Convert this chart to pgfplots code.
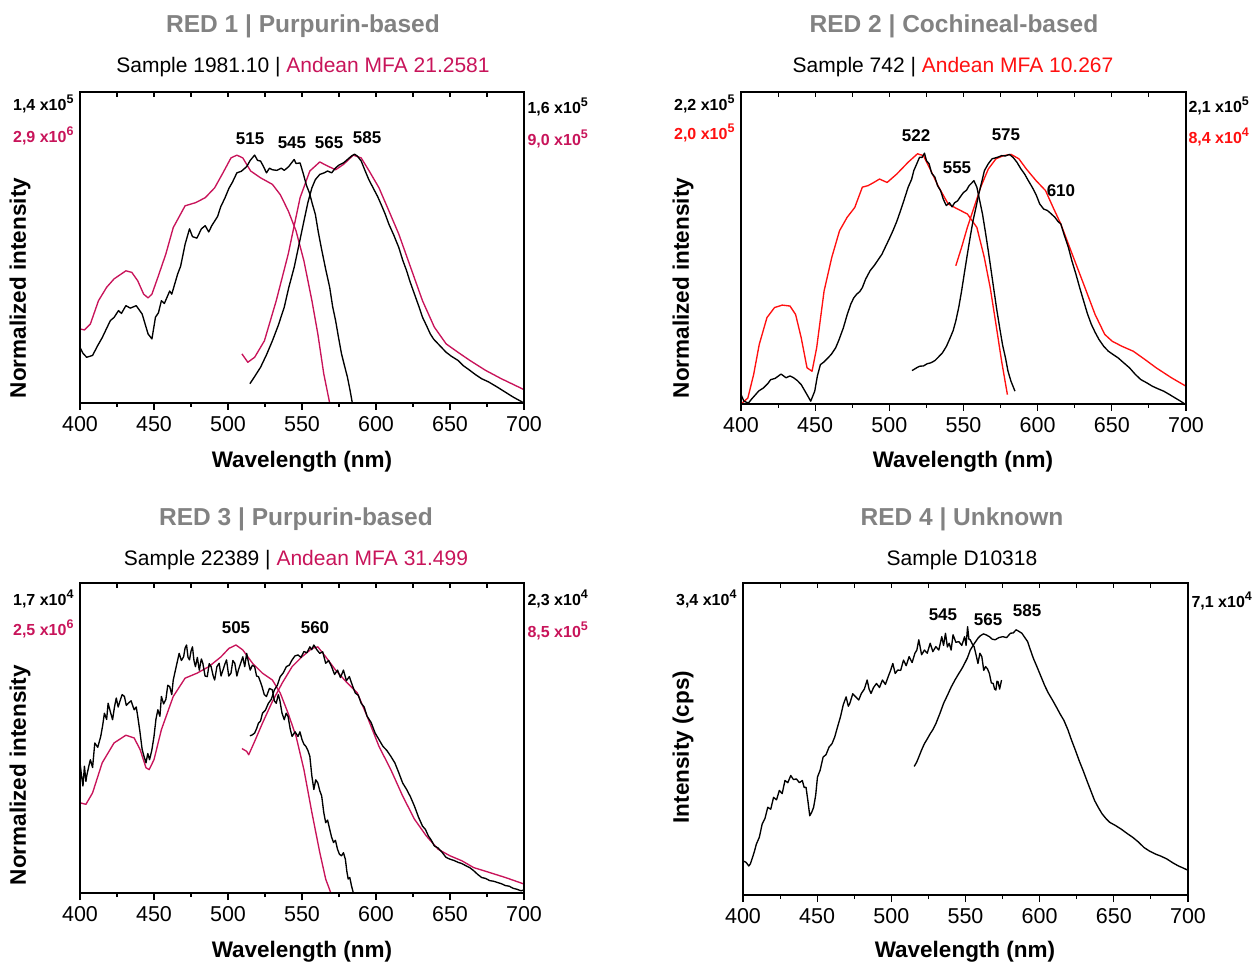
\documentclass[border=0pt]{standalone}
\usepackage{pgfplots}
\pgfplotsset{compat=1.18}
\usepackage{fontspec}
\setmainfont{Liberation Sans}
\definecolor{mag}{HTML}{C8145A}
\definecolor{tgray}{HTML}{828282}
\definecolor{pred}{HTML}{FF1010}
\pgfplotsset{
 panel/.style={scale only axis, xmin=400, xmax=700, ymin=0, ymax=100, ytick=\empty,
   xtick={400,450,...,700}, minor x tick num=1, xtick pos=left, tick align=outside,
   major tick length=7pt, minor tick length=4pt, axis line style={line width=1.2pt},
   tick style={line width=1.1pt, black},
   xticklabel style={font=\fontsize{21.5}{22}\selectfont, yshift=-2.5pt},
   /pgf/number format/assume math mode=true, /pgf/number format/1000 sep={},
   clip mode=individual},
 topt/.style={scale only axis, xmin=400, xmax=700, ymin=0, ymax=100, ytick=\empty,
   xtick={400,450,...,700}, minor x tick num=1, xtick pos=right, tick align=inside,
   major tick length=5pt, minor tick length=5pt, xticklabels={}, axis line style={line width=1.2pt},
   tick style={line width=1.1pt, black}},
}
\tikzset{
 blk/.style={black, line width=1.35pt, line join=round},
 mg/.style={mag, line width=1.35pt, line join=round},
 rd/.style={pred, line width=1.35pt, line join=round},
 pk/.style={font=\fontsize{17}{17}\selectfont\bfseries},
}
\newcommand{\ttl}{\fontsize{24.5}{25}\selectfont\bfseries\color{tgray}}
\newcommand{\sub}{\fontsize{21}{22}\selectfont}
\newcommand{\cl}{\fontsize{16}{16}\selectfont\bfseries}
\newcommand{\axl}{\fontsize{22.5}{23}\selectfont\bfseries}
\newcommand{\ex}[1]{\raisebox{6.5pt}{\fontsize{12.5}{13}\selectfont #1}}
\begin{document}
\begin{tikzpicture}[x=1pt,y=1pt]
\useasboundingbox (0,0) rectangle (1258,962);
% ---------------- Panel 1
\begin{axis}[panel, width=444pt, height=311pt, at={(80pt,559pt)}, anchor=south west]
\addplot[mg] coordinates {(400,23.8)(403,23.5)(407,25.4)(412.5,32.9)(418,37.2)(423,39.9)(431,42.5)(435,42)(439,39.3)(443,35)(446,33.8)(448.6,35)(452.6,40.4)(458,47.9)(463,56.4)(471,63.4)(478,64.4)(484.6,66)(491,69.2)(496.6,74)(502,78.8)(506,79.7)(510,78.8)(515.3,74.6)(522,72.4)(530,70.3)(535.3,67)(540.7,61.8)(546,55.3)(551.3,45.7)(556.7,32.9)(560.7,22.2)(564.7,9.4)(568.7,0)};
\addplot[mg] coordinates {(509.4,15.8)(513.4,13.1)(518,14.7)(524.6,20)(532.6,32.9)(540.7,47.9)(548.7,66)(555.3,74.6)(562,77.5)(567.3,76.2)(572.7,75)(578,76.7)(584.7,79.7)(590,78.8)(595.4,74.6)(602,69.2)(608.7,61.8)(615.4,54.3)(623.4,43.6)(631.4,32.9)(639.4,24.4)(647.4,19)(655.4,16.3)(663.4,13.7)(674,10.5)(684.7,7.8)(700,4.3)};
\addplot[blk] coordinates {(400,17.9)(402,16)(404.5,14.7)(408.5,15.3)(412,18.5)(415,21)(418,24)(420.5,26.5)(423,27.5)(426,29.7)(428,28.8)(431,31.3)(434,30.5)(438,31.3)(442,28.6)(446,22.2)(448.6,20.6)(451,27.6)(453,29)(455,32.9)(457,32)(460.6,36)(462,35)(466,41.5)(468,44)(471,51)(474,56)(476,53.5)(479,53)(482,56)(484.6,57)(487,55)(489,57)(491,58.5)(493,60)(495,63)(498,66)(500.6,69)(503,71)(506,74)(509,74.5)(512.6,76)(515,78)(518,79.7)(520,78)(522,77.8)(524,76)(526,74)(528,75.5)(530,75)(533,74.8)(536,75.5)(538,74.8)(541,76)(544.7,78.3)(546,77)(548.7,77.2)(551,73.5)(553,70)(555,67.6)(557,64)(559,60.7)(561,55)(563,50)(566,43)(568.7,37.2)(570.7,31)(572.7,26.5)(574.7,21)(576.7,15.8)(578.7,12)(580.7,8.3)(582.5,4)(584,0)};
\addplot[blk] coordinates {(514.8,6.2)(518,8.5)(522,11.5)(526,15.5)(530,20)(534,25)(538,30.8)(541,37)(544.7,43.6)(548,51)(551.3,58.5)(554,64.5)(556.7,69.2)(559,71.8)(562,73.5)(565,74)(567.3,74.6)(570,74)(572.7,75.6)(575,76.5)(578,77.2)(580,78)(583.4,79.4)(585.5,80)(587.4,79.4)(590,77.8)(592.7,74.6)(595,72)(598,69.2)(601,66.5)(603.4,63.9)(606,61)(608.7,57.5)(612,54)(615.4,50)(618,46)(620.7,42.5)(623,39)(626,35)(629,31)(631.4,27.6)(634,25)(636.7,22.2)(639,20.5)(642,19)(645,17.5)(647.4,16.3)(651,15)(655.4,13.7)(659,12)(663.4,10.5)(667,9.2)(671.4,7.8)(676,6.8)(682,5.1)(687,3.6)(692.7,1.9)(700,0)};
\node[pk] at (axis cs:514.9,84.9) {515};
\node[pk] at (axis cs:543.2,83.6) {545};
\node[pk] at (axis cs:568.3,83.6) {565};
\node[pk] at (axis cs:594,85.2) {585};
\end{axis}
\begin{axis}[topt, width=444pt, height=311pt, at={(80pt,559pt)}, anchor=south west]\end{axis}
\node[font=\ttl] at (303,936) {RED 1 | Purpurin-based};
\node[font=\sub] at (303,895) {Sample 1981.10 | \textcolor{mag}{Andean MFA 21.2581}};
\node[font=\cl, anchor=east] at (77,858) {1,4 x10\ex{5}};
\node[font=\cl, anchor=east, mag] at (77,826) {2,9 x10\ex{6}};
\node[font=\cl, anchor=west] at (524,855) {1,6 x10\ex{5}};
\node[font=\cl, anchor=west, mag] at (524,823) {9,0 x10\ex{5}};
\node[font=\axl, rotate=90] at (20,674) {Normalized intensity};
\node[font=\axl] at (302,500) {Wavelength (nm)};
% ---------------- Panel 2
\begin{axis}[panel, width=445pt, height=312pt, at={(741pt,558pt)}, anchor=south west]
\addplot[rd] coordinates {(400,0)(404.6,1.9)(408.5,9.4)(412.3,19.1)(417.5,27.7)(422.6,30.9)(427.8,31.7)(433,31.4)(436.8,28.7)(440.6,21.2)(444.5,11.6)(447.9,10.5)(451,18)(456,36.2)(461.2,47)(466.4,55.5)(471.5,59.8)(476.7,63)(481.8,69.5)(485.7,70)(489.5,71)(493.4,72.1)(498.5,71)(505,73.7)(512.7,77.5)(519,80.2)(523,79.6)(528,74.8)(533.3,69.5)(539.7,64.1)(546,62.5)(552.6,60.9)(559,56.6)(564,47)(568,37.3)(571.9,25.5)(575.7,13.7)(579.6,3)};
\addplot[rd] coordinates {(544.8,44.3)(548.7,50.2)(552.6,56.6)(556.4,62)(561.6,69.5)(566.7,75.3)(571.9,78.6)(577,79.6)(582.1,80)(587.3,78.6)(592.4,75.3)(598.9,71.6)(605.3,68.4)(610.4,63)(615.6,57.7)(623.3,48)(631,38.4)(638.7,28.7)(645.2,22.3)(650.3,20.1)(656.8,18.5)(664.5,16.9)(672.2,14.3)(679.9,11.6)(690.2,8.4)(700,5.7)};
\addplot[blk] coordinates {(400,3)(402,0.9)(405,0.3)(407,1.5)(409.8,3)(412,4.2)(415,5.1)(418,6.5)(420,7.8)(423,8.2)(425,8.9)(427,9.6)(430.4,8.4)(433,9)(435.5,8.4)(438,7.5)(440.6,6.2)(444.5,3)(447,0.9)(449.7,4.1)(451.5,9)(453.5,12.6)(456,13.5)(458.7,14.8)(461,16)(463.8,18)(466,20.5)(469,24.4)(471.5,28.5)(474,32)(476,34)(478,35.2)(480,36)(481.8,37.3)(484,40)(487,42.7)(490,44.5)(492,45.9)(495,48)(497.2,50.2)(500,53)(502.4,55.5)(505,58.5)(507.5,61.9)(510,65.5)(512.7,69.5)(515,72)(516.5,74.8)(518.5,77)(520.4,79.1)(522,79)(523.7,80.4)(525,78)(526.8,77)(528.5,74)(530.7,72.7)(532.5,70)(534.5,68.4)(536.5,65.5)(538.4,63.6)(540.5,64.5)(542.3,63.2)(544,64.5)(546,65.1)(548,66.5)(550,67.8)(552,68.5)(553.8,70)(555.5,70.8)(557,71.6)(559,69.5)(561,65)(562.8,60.9)(564.8,55)(566.7,49.1)(568.7,42.5)(570.6,36.2)(572.5,30)(574.4,24.4)(576.3,19)(578.3,14.8)(580,10.5)(582,7.3)(584.7,4.1)};
\addplot[blk] coordinates {(515.3,10.7)(518,11.5)(520.4,12.1)(523,12.2)(525.5,12.9)(528,13.2)(530.7,13.9)(533,15)(535.8,16.4)(538.5,18.5)(541,21.2)(543,23.5)(544.8,26.6)(546.8,31)(548.7,36.2)(550.6,42)(552.6,48)(554.5,53.5)(556.4,58.7)(558.4,63)(560.3,67.3)(562.2,71)(564.1,74.8)(566.7,77)(569.3,78.6)(572.5,79)(575.7,79.6)(578.3,79.5)(580.9,80)(583.5,79)(586,77.5)(588.5,75.5)(591.2,73.7)(593.8,71.5)(596.3,69.5)(599,67)(601.4,64.1)(604,62.5)(606.6,62)(609,61)(611.7,59.8)(613.7,58.5)(615.6,57.7)(618,54)(620.7,50.2)(623,46)(625.8,41.6)(628.5,37)(631,33)(633.5,29)(636.2,25.5)(638.7,23)(641.3,20.7)(644.5,18.5)(647.7,16.9)(651,15.8)(654.2,14.8)(658,13.2)(661.9,11.6)(665.8,9.5)(669.6,7.8)(673.5,6.8)(677.3,5.7)(681,4.9)(685,4.1)(689,3)(692.8,1.9)(696,1)(699.2,0)};
\node[pk] at (axis cs:518,85.9) {522};
\node[pk] at (axis cs:545.6,75.6) {555};
\node[pk] at (axis cs:578.6,86.2) {575};
\node[pk] at (axis cs:615.7,68.3) {610};
\end{axis}
\begin{axis}[topt, width=445pt, height=312pt, at={(741pt,558pt)}, anchor=south west]\end{axis}
\node[font=\ttl] at (954,936) {RED 2 | Cochineal-based};
\node[font=\sub] at (953,895) {Sample 742 | \textcolor{pred}{Andean MFA 10.267}};
\node[font=\cl, anchor=east] at (738,858) {2,2 x10\ex{5}};
\node[font=\cl, anchor=east, pred] at (738,829) {2,0 x10\ex{5}};
\node[font=\cl, anchor=west] at (1185,856) {2,1 x10\ex{5}};
\node[font=\cl, anchor=west, pred] at (1185,825) {8,4 x10\ex{4}};
\node[font=\axl, rotate=90] at (683,674) {Normalized intensity};
\node[font=\axl] at (963,500) {Wavelength (nm)};
% ---------------- Panel 3
\begin{axis}[panel, width=444pt, height=310pt, at={(80pt,69pt)}, anchor=south west]
\addplot[mg] coordinates {(400,29.1)(404,28.6)(408.5,32.3)(415,42)(423,48.4)(431,50.9)(436.6,50)(440.6,46.3)(444.6,40.4)(446.7,39.8)(450,43)(455,52.7)(463,63.4)(471,69.3)(479,70.9)(487,73)(495.3,76.2)(500.6,78.9)(505.4,80)(510,78.4)(516.6,74.1)(523.3,70.9)(530,68.7)(535.3,64.5)(540.6,58)(546,50.5)(551.3,39.8)(556.7,25.9)(562,13.1)(566,4.5)(569.5,0)};
\addplot[mg] coordinates {(509.4,46.6)(512.6,45.7)(514,44.6)(518,48.9)(523.3,54.8)(530,61.8)(536.6,67.7)(543.3,73)(550,76.2)(556.7,78.9)(560.7,79.4)(566,76.2)(572.7,71.9)(580.7,67.7)(587.4,64.5)(594,57)(602,47.3)(610,39.8)(618,31.3)(626,23.8)(634,18.4)(642,14.1)(650,12)(658,10.4)(666,8.2)(676.8,6.6)(687.4,5)(700,2.9)};
\addplot[blk] coordinates {(400,42)(401,38)(402,34.5)(403,40.9)(404,36)(404.5,37.7)(406,41)(407,43)(408.5,40.5)(410,48.4)(412,47)(414,50.5)(415.3,54)(416.5,58)(418,56)(419,61.2)(420.5,58.5)(422,55.9)(423.3,60)(424.5,62.9)(425.8,60)(427,61.9)(428.5,64)(430,63.4)(431.3,60.5)(432.6,61.2)(434.5,62)(436.6,59.1)(438,60)(439,57)(440.5,52)(442,46.3)(443.3,44)(444.6,42)(445.8,45)(447,43)(448.5,46)(450,50.5)(451.3,56)(452.6,59.1)(454,57)(455,63.4)(456.5,61)(458,62.4)(459.3,67)(460.6,66.6)(462,64)(463,68.7)(465,73)(467,77.3)(468.5,75)(470,76.2)(471,79)(472,80)(473,76)(474,75.2)(475,78)(476,79.4)(477,75)(478,73)(479.3,76)(480.6,71.9)(482,75.5)(483,74.1)(484.5,70)(486,69.8)(487.3,74)(488.6,73)(490,70)(491,68.7)(492.5,73)(494,74.1)(495.3,70)(496.6,71.9)(498,74)(499,75.2)(500.5,70)(502,70.9)(503.3,75)(504.6,74.1)(506,70)(507,71.9)(508.5,74)(510,76.2)(511.3,73)(512.6,77.3)(514,74)(515,71.9)(516.5,73.5)(518,73)(519.3,70)(520.6,69.8)(522,68)(523,66.6)(524.5,64)(526,63.4)(528,66)(530,65.5)(531.3,62)(532.6,61.2)(534,64)(535,62.2)(536.5,58)(538,55.9)(539.3,58)(540.6,56.9)(542,53)(543.3,50.5)(545.3,52)(547.3,50.5)(548.6,52)(550,49.5)(551.3,48)(552.6,47.3)(554,46)(555.3,44.1)(556.6,38)(558,33.4)(559.3,36.5)(560.7,35.5)(562,33)(563.3,31.3)(564.7,26)(566,22.7)(567.3,23.5)(568.7,20.6)(570,18)(571.3,16.3)(572.6,17)(574,14.1)(575.3,12.5)(576.7,12)(578,13)(579.3,10.9)(580.3,7)(581.2,4.5)(582.3,5)(583.4,2.4)(584.7,0)};
\addplot[blk] coordinates {(514.8,50.7)(516.4,51)(518,51.6)(519.3,53)(520.6,54.8)(522,55.5)(523.3,58)(525.3,59)(527.3,61.2)(529.3,62.5)(531.3,65.5)(533.3,67)(535.3,69.8)(537.3,71)(539.4,73)(541.4,73.5)(543.3,75.2)(545.3,76.5)(547.3,76.8)(549.3,76)(551.3,77.9)(553.3,77.5)(555.3,79.4)(556.6,78.5)(558,80)(560,78.5)(562,77.3)(564,77.8)(566,74.1)(568,75)(570,73)(572,70.5)(574,71.9)(576,69.5)(578,71.9)(580,68.5)(582,69.8)(584,67)(586,64.5)(588,63.8)(590,61.2)(592,60)(594,57)(596.7,55)(599.4,51.6)(602,49.5)(604.7,47.3)(607.3,46)(610,44.1)(612.7,42)(615.4,38.8)(618,35.5)(620.7,33.4)(623.3,31)(626,28)(628.7,24.5)(631.4,21.6)(633.4,20.5)(635.4,18.4)(637.4,17)(639.4,15.2)(642,14.5)(644.7,13.1)(647.3,11.5)(650,10.9)(652.7,10.5)(655.4,9.9)(658,9.5)(660.7,8.8)(663.3,8.2)(666,7.2)(668.7,6)(671.4,5)(674,4.7)(676.8,4)(679.4,3.8)(682,3.4)(684.7,3)(687.4,2.4)(690,2.2)(692.7,1.5)(695.3,1.2)(698,0.7)(700,1)};
\node[pk] at (axis cs:505.4,85.5) {505};
\node[pk] at (axis cs:558.8,85.5) {560};
\end{axis}
\begin{axis}[topt, width=444pt, height=310pt, at={(80pt,69pt)}, anchor=south west]\end{axis}
\node[font=\ttl] at (296,443) {RED 3 | Purpurin-based};
\node[font=\sub] at (296,402) {Sample 22389 | \textcolor{mag}{Andean MFA 31.499}};
\node[font=\cl, anchor=east] at (77,363) {1,7 x10\ex{4}};
\node[font=\cl, anchor=east, mag] at (77,333) {2,5 x10\ex{6}};
\node[font=\cl, anchor=west] at (524,363) {2,3 x10\ex{4}};
\node[font=\cl, anchor=west, mag] at (524,331) {8,5 x10\ex{5}};
\node[font=\axl, rotate=90] at (20,187) {Normalized intensity};
\node[font=\axl] at (302,10) {Wavelength (nm)};
% ---------------- Panel 4
\begin{axis}[panel, width=445pt, height=312pt, at={(743pt,67pt)}, anchor=south west]
\addplot[blk] coordinates {(400,10.9)(402,10.5)(403.9,9.3)(405,10)(406.4,12)(407.7,14)(409,16.3)(411,18.5)(412.9,22.7)(414.8,24.5)(416.7,28.1)(418.7,27.5)(420.6,31.3)(422.6,30.5)(424.5,33.5)(426.4,32.5)(428.3,36.7)(430.2,36)(432.2,38.3)(434,37)(436,37.2)(438,36)(440,36.7)(441.2,34.5)(442.5,34.5)(443.8,30)(445,25.4)(446.3,26.5)(447.6,28.1)(449,32)(450.2,37.8)(452,40)(454,44.2)(456,45)(458,47.4)(460,48.5)(461.8,50.6)(463.8,54)(465.7,57.1)(467.6,61)(469.5,63.5)(471,60.5)(472,61.4)(474,64.5)(476,63.5)(478,62.5)(479.8,64.6)(481.8,66)(483.7,68.9)(485,66)(486.3,64.6)(488,66.5)(490,67.8)(492,66.5)(494,68.9)(496,67.5)(497.9,70)(499.5,72)(501,74.2)(502.6,71)(504.3,72.1)(506.3,72)(508.2,75.3)(510,73.5)(512,76.4)(514,74.5)(515.9,77.5)(517.2,78.5)(518.5,81.8)(520.4,77)(522.3,78.5)(524.2,77.5)(526.2,80.7)(528,78)(530,79.6)(532,78.5)(534,82.8)(535.2,80)(536.5,83.9)(537.8,79.5)(539,80.7)(540.3,78.5)(541.6,83.4)(543.5,81)(545.5,81.2)(547.5,80)(549.4,82.8)(550.4,80)(551.4,86)(552.3,82)(553.2,81.8)(554.5,80.5)(555.8,79.6)(557.1,77)(558.4,74.2)(559.7,77.5)(561,76.4)(562.3,72)(563.5,73.2)(564.8,72.5)(566.1,71)(567.4,68)(568.7,67.8)(569.6,66)(570.5,65.7)(571.2,68.5)(572,68.3)(573,66)(574.3,68.9)};
\addplot[blk] coordinates {(515.4,41.2)(517,42.5)(518.5,44.2)(520.4,46.5)(522.3,48.5)(524.2,50)(526.2,51.7)(528,53)(530,54.9)(532.6,58)(535.2,61.4)(537.8,64)(540.4,66.7)(543,69)(545.5,71)(547.5,72.5)(549.4,74.2)(551.3,76)(553.2,78.5)(555.8,80.5)(558.4,82.3)(560.3,83.2)(562.2,83.7)(564.2,83.3)(566.1,82.8)(568,82)(570,81.8)(572.5,82.5)(575.1,82.8)(577.7,82.5)(580.3,83.9)(582.2,84)(584.1,85)(586,84.5)(588,83.9)(590,82.5)(591.9,81.2)(593.8,78.5)(595.7,75.9)(598.3,73)(600.9,70)(603.5,67)(606,64.6)(608.6,62.5)(611.2,60.3)(613.8,58)(616.3,56)(619,53)(621.5,49.6)(624,46.5)(626.6,43.1)(629.2,40)(631.8,36.7)(634.4,33.5)(637,30.3)(639.6,28)(642.1,26)(644.7,24.5)(647.2,23.3)(651,22.3)(655,21.1)(659,19.7)(662.7,18.5)(666.5,17)(670.4,15.2)(674.3,14)(678.2,13.1)(682,12.4)(685.9,11.5)(689.8,10.3)(693.6,9.3)(697,8.6)(700,7.9)};
\node[pk] at (axis cs:534.8,89.7) {545};
\node[pk] at (axis cs:565.2,88.1) {565};
\node[pk] at (axis cs:591.5,91) {585};
\end{axis}
\begin{axis}[topt, width=445pt, height=312pt, at={(743pt,67pt)}, anchor=south west]\end{axis}
\node[font=\ttl] at (962,443) {RED 4 | Unknown};
\node[font=\sub] at (962,402) {Sample D10318};
\node[font=\cl, anchor=east] at (740,363) {3,4 x10\ex{4}};
\node[font=\cl, anchor=west] at (1188,361) {7,1 x10\ex{4}};
\node[font=\axl, rotate=90] at (683,215) {Intensity (cps)};
\node[font=\axl] at (965,10) {Wavelength (nm)};
\end{tikzpicture}
\end{document}
